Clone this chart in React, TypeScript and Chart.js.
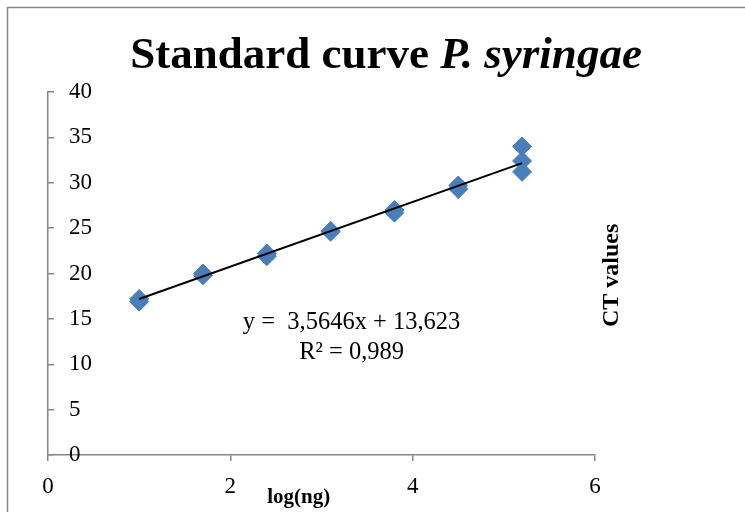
import React, { useEffect, useRef } from 'react';
import { Chart, registerables } from 'chart.js';

Chart.register(...registerables);

// ---- data ----
const logNg = [1, 1, 1.7, 1.7, 2.4, 2.4, 3.1, 3.1, 3.8, 3.8, 4.5, 4.5, 5.2, 5.2, 5.2];
const ctValues = [17.2, 16.9, 20.0, 19.8, 22.2, 21.9, 24.7, 24.6, 27.0, 26.7, 29.7, 29.3, 34.0, 32.4, 31.2];
const trendSlope = 3.5646;
const trendIntercept = 13.623;
const trendRange = [1, 5.2];
const xTickValues = [0, 2, 4, 6];
const yTickValues = [0, 5, 10, 15, 20, 25, 30, 35, 40];
const titleRegular = 'Standard curve ';
const titleItalic = 'P. syringae';
const xTitle = 'log(ng)';
const yTitle = 'CT values';
const equationLines = ['y =  3,5646x + 13,623', 'R\u00B2 = 0,989'];
// anchor of the equation text (data coordinates)
const equationAnchorX = 3.33;
const equationAnchorY = [14.6, 11.3];

const FONT = '"Liberation Serif", "Times New Roman", serif';
const AXIS_GRAY = '#868686';
const POINT_BLUE = '#4a7ebb';

const decorPlugin = {
  id: 'decor',
  beforeDraw(chart: any) {
    const ctx = chart.ctx;
    ctx.save();
    ctx.strokeStyle = AXIS_GRAY;
    ctx.lineWidth = 1.5;
    ctx.beginPath();
    ctx.moveTo(7.5, chart.height);
    ctx.lineTo(7.5, 7.5);
    ctx.lineTo(chart.width, 7.5);
    ctx.stroke();
    ctx.restore();
  },
  afterDraw(chart: any) {
    const ctx = chart.ctx;
    const xs = chart.scales.x;
    const ys = chart.scales.y;
    ctx.save();
    ctx.fillStyle = '#000';

    // title with mixed styles
    ctx.textBaseline = 'alphabetic';
    ctx.textAlign = 'left';
    ctx.font = `bold 45px ${FONT}`;
    const w1 = ctx.measureText(titleRegular).width;
    ctx.font = `italic bold 45px ${FONT}`;
    const w2 = ctx.measureText(titleItalic).width;
    const cx = 386;
    const tx = cx - (w1 + w2) / 2;
    ctx.font = `bold 45px ${FONT}`;
    ctx.fillText(titleRegular, tx, 68);
    ctx.font = `italic bold 45px ${FONT}`;
    ctx.fillText(titleItalic, tx + w1, 68);

    // x title
    ctx.font = `bold 21px ${FONT}`;
    ctx.textAlign = 'center';
    ctx.textBaseline = 'middle';
    ctx.fillText(xTitle, xs.getPixelForValue(2.75), 498);

    // y title (right side, rotated)
    ctx.save();
    ctx.translate(612, ys.getPixelForValue(19.8));
    ctx.rotate(-Math.PI / 2);
    ctx.font = `bold 24px ${FONT}`;
    ctx.fillText(yTitle, 0, 0);
    ctx.restore();

    // equation
    ctx.font = `24.5px ${FONT}`;
    equationLines.forEach((line, i) => {
      ctx.fillText(line, xs.getPixelForValue(equationAnchorX), ys.getPixelForValue(equationAnchorY[i]));
    });
    ctx.restore();
  },
};

export default function App() {
  const ref = useRef<HTMLCanvasElement | null>(null);
  useEffect(() => {
    if (!ref.current) return;
    const points = logNg.map((x, i) => ({ x, y: ctValues[i] }));
    const trend = trendRange.map((x) => ({ x, y: trendSlope * x + trendIntercept }));
    const tickFont = { family: FONT, size: 23, lineHeight: 1 };
    const chart = new Chart(ref.current, {
      type: 'scatter',
      data: {
        datasets: [
          {
            type: 'line',
            data: trend,
            borderColor: '#000',
            borderWidth: 2,
            pointRadius: 0,
            fill: false,
            order: 0,
          } as any,
          {
            type: 'scatter',
            data: points,
            pointStyle: 'rectRot',
            pointRadius: 9.5,
            backgroundColor: POINT_BLUE,
            borderColor: POINT_BLUE,
            borderWidth: 1,
            order: 1,
          } as any,
        ],
      },
      options: {
        animation: false,
        responsive: false,
        events: [],
        layout: { padding: { left: 12, right: 150, top: 92, bottom: 0 } },
        plugins: { legend: { display: false }, tooltip: { enabled: false }, title: { display: false } },
        scales: {
          x: {
            type: 'linear',
            position: 'bottom',
            min: 0,
            max: 6,
            afterBuildTicks: (s: any) => { s.ticks = xTickValues.map((v) => ({ value: v })); },
            ticks: { color: '#000', font: tickFont, padding: 14, maxRotation: 0 },
            grid: { display: true, drawOnChartArea: false, drawTicks: true, tickLength: 6, color: AXIS_GRAY, lineWidth: 1.5 },
            border: { display: true, color: AXIS_GRAY, width: 1.5 },
          },
          y: {
            type: 'linear',
            position: 'left',
            min: 0,
            max: 40,
            afterBuildTicks: (s: any) => { s.ticks = yTickValues.map((v) => ({ value: v })); },
            ticks: { color: '#000', font: tickFont, padding: 21, mirror: true },
            grid: { display: true, drawOnChartArea: false, drawTicks: true, tickLength: -6, color: AXIS_GRAY, lineWidth: 1.5 },
            border: { display: true, color: AXIS_GRAY, width: 1.5 },
          },
        },
      },
      plugins: [decorPlugin],
    } as any);
    return () => chart.destroy();
  }, []);
  return (
    <div style={{ position: 'absolute', left: 0, top: 0, width: 745, height: 512, background: '#fff' }}>
      <canvas ref={ref} width={745} height={512} style={{ display: 'block' }} />
    </div>
  );
}
